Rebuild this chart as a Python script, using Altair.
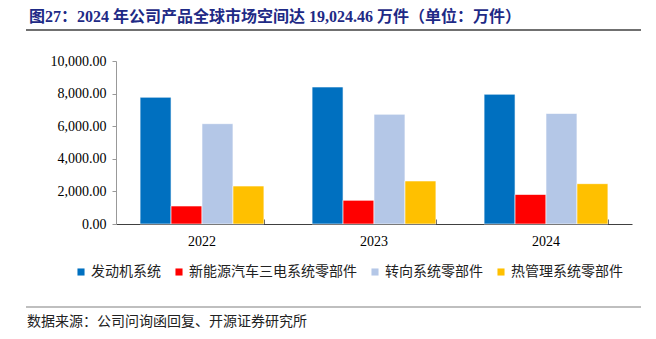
import altair as alt
import pandas as pd

years = ["2022", "2023", "2024"]
series = ["发动机系统", "新能源汽车三电系统零部件", "转向系统零部件", "热管理系统零部件"]
engine = [7775, 8405, 7960]
nev = [1105, 1450, 1810]
steering = [6155, 6730, 6780]
thermal = [2330, 2640, 2475]
colors = ["#0070C0", "#FF0000", "#B4C7E7", "#FFC000"]
y_ticks = [0, 2000, 4000, 6000, 8000, 10000]

title_text = "图27：2024 年公司产品全球市场空间达 19,024.46 万件（单位：万件）"
source_text = "数据来源：公司问询函回复、开源证券研究所"

rows = []
for name, vals in zip(series, [engine, nev, steering, thermal]):
    for yr, v in zip(years, vals):
        rows.append({"year": yr, "series": name, "value": v})
df = pd.DataFrame(rows)

W, H = 516, 163
PL, PT = 116, 61

serif = "Liberation Serif"
cjk = "Noto Sans CJK SC"
mixed = "Liberation Serif, Noto Sans CJK SC"

xscale = alt.Scale(paddingInner=0.28, paddingOuter=0.14)
yaxis = alt.Axis(title=None, values=y_ticks, format=",.2f", labelFont=serif,
                 labelFontSize=14, labelColor="#000", domainColor="#999999",
                 tickColor="#999999", tickSize=4, labelPadding=6, grid=False,
                 labelOverlap=False)

bars = alt.Chart(df).mark_bar(stroke="white", strokeWidth=0.6).encode(
    x=alt.X("year:N", sort=years, scale=xscale,
            axis=alt.Axis(title=None, labelAngle=0, labelFont=serif, labelFontSize=14,
                          labelColor="#000", domainColor="#404040", domainWidth=1,
                          ticks=False, labelPadding=10, grid=False)),
    xOffset=alt.XOffset("series:N", sort=series, scale=alt.Scale(paddingInner=0, paddingOuter=0)),
    y=alt.Y("value:Q", scale=alt.Scale(domain=[0, 10000], nice=False), axis=yaxis),
    color=alt.Color("series:N", sort=series,
                    scale=alt.Scale(domain=series, range=colors),
                    legend=alt.Legend(title=None, orient="none", direction="horizontal",
                                      legendX=77 - PL - 3, legendY=265 - PT,
                                      symbolType="square", symbolSize=50, symbolStrokeWidth=0,
                                      labelFont=cjk, labelFontSize=14, labelColor="#222",
                                      labelLimit=0, labelOffset=3, columnPadding=11,
                                      symbolOffset=0)),
)

ticks_layer = alt.Chart(df).mark_bar(opacity=0).encode(
    x=alt.X("year:N", sort=years, scale=xscale,
            axis=alt.Axis(title=None, orient="top", offset=-H, labels=False, domain=False,
                          ticks=True, tickBand="extent", tickSize=5, tickColor="#404040",
                          tickWidth=1, grid=False)),
    y=alt.Y("value:Q", axis=yaxis),
)

one = pd.DataFrame({"k": [0]})

title = alt.Chart(one).mark_text(align="left", baseline="middle", font=mixed, fontSize=16,
                                 fontWeight="bold", color="#1E2A86").encode(
    x=alt.value(29 - PL), y=alt.value(17 - PT), text=alt.value(title_text))

top_line = alt.Chart(one).mark_rule(color="#404040", strokeWidth=1.5).encode(
    x=alt.value(26 - PL), x2=alt.value(641 - PL), y=alt.value(30 - PT))

bottom_line = alt.Chart(one).mark_rule(color="#808080", strokeWidth=1.2).encode(
    x=alt.value(26 - PL), x2=alt.value(641 - PL), y=alt.value(307 - PT))

source = alt.Chart(one).mark_text(align="left", baseline="middle", font=cjk, fontSize=14,
                                  color="#222").encode(
    x=alt.value(27 - PL), y=alt.value(322 - PT), text=alt.value(source_text))

chart = alt.layer(bars, ticks_layer, title, top_line, bottom_line, source).resolve_axis(
    x="independent"
).properties(
    width=W, height=H,
    background="white",
    autosize=alt.AutoSizeParams(type="none"),
    padding={"left": PL, "top": PT, "right": 656 - PL - W, "bottom": 339 - PT - H},
).configure_view(stroke=None)

chart.save("out.html", embed_options={"renderer": "svg", "actions": False})
